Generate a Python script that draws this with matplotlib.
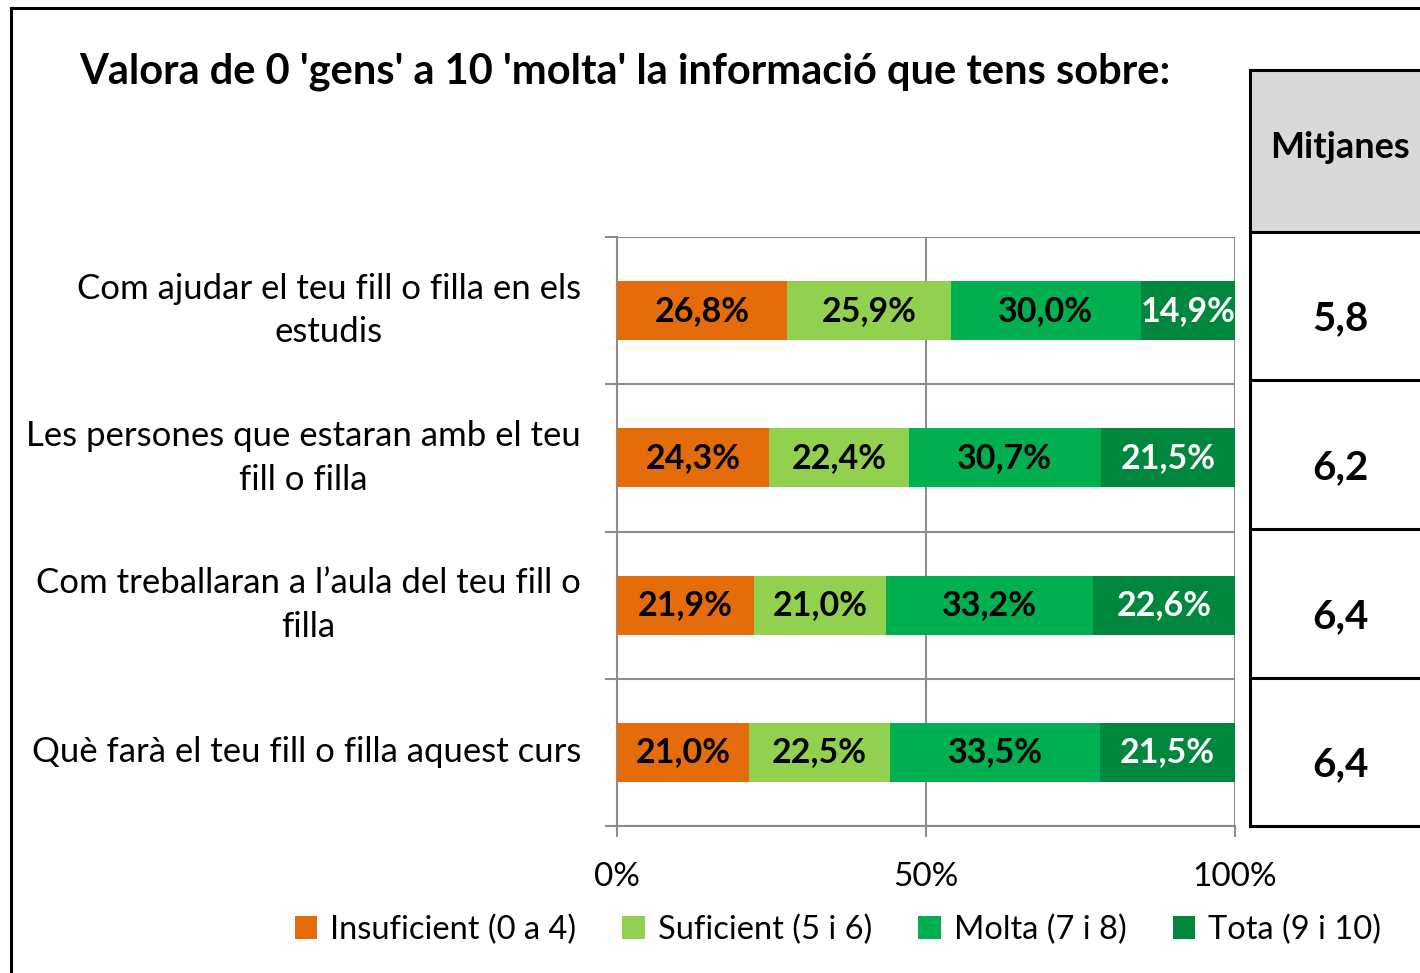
import matplotlib
matplotlib.use("Agg")
import matplotlib.pyplot as plt
from matplotlib.patches import Rectangle
from matplotlib.lines import Line2D

plt.rcParams['font.family'] = ['Lato', 'DejaVu Sans']

title = "Valora de 0 'gens' a 10 'molta' la informació que tens sobre:"
categories = [
    "Com ajudar el teu fill o filla en els\nestudis",
    "Les persones que estaran amb el teu\nfill o filla",
    "Com treballaran a l\u2019aula del teu fill o\nfilla",
    "Què farà el teu fill o filla aquest curs",
]
series_names = ["Insuficient (0 a 4)", "Suficient (5 i 6)", "Molta (7 i 8)", "Tota (9 i 10)"]
insuficient = [26.8, 24.3, 21.9, 21.0]
suficient = [25.9, 22.4, 21.0, 22.5]
molta = [30.0, 30.7, 33.2, 33.5]
tota = [14.9, 21.5, 22.6, 21.5]
means_header = "Mitjanes"
means = ["5,8", "6,2", "6,4", "6,4"]
xtick_vals = [0, 50, 100]
xtick_labels = ["0%", "50%", "100%"]

colors = ["#E46C0A", "#92D050", "#00B050", "#00873E"]
label_colors = ["black", "black", "black", "white"]

W, H = 1420, 973
fig = plt.figure(figsize=(W / 100, H / 100), dpi=100)

def fx(px):
    return px / W

def fy(py):
    return 1 - py / H

# outer border
fig.add_artist(Line2D([fx(11), fx(11)], [fy(8), fy(980)], color="black", lw=2.2, transform=fig.transFigure))
fig.add_artist(Line2D([fx(11), fx(1430)], [fy(8), fy(8)], color="black", lw=2.2, transform=fig.transFigure))

ax = fig.add_axes([fx(617), fy(826), fx(1235) - fx(617), fy(237) - fy(826)])

series = [insuficient, suficient, molta, tota]
totals = [sum(s[i] for s in series) for i in range(len(categories))]
ypos = list(range(len(categories)))
left = [0.0] * len(categories)
for vals, col, lc, name in zip(series, colors, label_colors, series_names):
    widths = [100.0 * v / t for v, t in zip(vals, totals)]
    bars = ax.barh(ypos, widths, left=left, height=0.40, color=col, label=name, zorder=3)
    for b, v in zip(bars, vals):
        ax.text(b.get_x() + b.get_width() / 2, b.get_y() + b.get_height() / 2,
                f"{v:.1f}%".replace(".", ","), ha="center", va="center",
                color=lc, fontsize=24.5, fontweight="bold", zorder=4)
    left = [l + w for l, w in zip(left, widths)]

ax.set_xlim(0, 100)
ax.set_ylim(len(categories) - 0.5, -0.5)
gray = "#8c8c8c"
ax.set_xticks(xtick_vals)
ax.set_xticklabels(xtick_labels, fontsize=24)
ax.set_yticks(ypos)
ax.set_yticklabels(categories, fontsize=25, multialignment="center", linespacing=1.45, va="center")
ax.set_yticks([y - 0.5 for y in ypos] + [len(categories) - 0.5], minor=True)
ax.tick_params(axis="y", which="major", length=0, pad=26)
ax.tick_params(axis="y", which="minor", length=9, color=gray, width=1.5)
ax.tick_params(axis="x", which="major", length=8, color=gray, width=1.5, pad=18)
ax.grid(axis="y", which="minor", color=gray, lw=1.5, zorder=1)
ax.grid(axis="x", which="major", color=gray, lw=1.5, zorder=1)
for s in ["top", "right"]:
    ax.spines[s].set_visible(False)
for s in ["left", "bottom"]:
    ax.spines[s].set_color(gray)
    ax.spines[s].set_linewidth(1.5)

# title
fig.text(fx(79), fy(72), title, ha="left", va="center", fontsize=30, fontweight="bold")

# legend
leg = fig.legend(loc="center", bbox_to_anchor=(fx(838), fy(930)), ncol=4, frameon=False,
                 fontsize=23.5, handlelength=0.7, handleheight=0.7, handletextpad=0.4,
                 columnspacing=1.4)

# means table
tx0, tx1 = 1250, 1440
row_edges = [70, 232, 380, 529, 678, 826]
fig.add_artist(Rectangle((fx(tx0), fy(row_edges[1])), fx(tx1) - fx(tx0), fy(row_edges[0]) - fy(row_edges[1]),
                         facecolor="#D9D9D9", edgecolor="none", transform=fig.transFigure))
for ry in row_edges:
    fig.add_artist(Line2D([fx(tx0), fx(tx1)], [fy(ry), fy(ry)], color="black", lw=2.2, transform=fig.transFigure))
fig.add_artist(Line2D([fx(tx0), fx(tx0)], [fy(row_edges[0]), fy(row_edges[-1])], color="black", lw=2.2,
                      transform=fig.transFigure))
fig.text(fx(1340), fy(148), means_header, ha="center", va="center", fontsize=26, fontweight="bold")
for i, m in enumerate(means):
    yc = (row_edges[i + 1] + row_edges[i + 2]) / 2 + 13
    fig.text(fx(1340), fy(yc), m, ha="center", va="center", fontsize=29, fontweight="bold")

fig.savefig("out.png", dpi=100)
